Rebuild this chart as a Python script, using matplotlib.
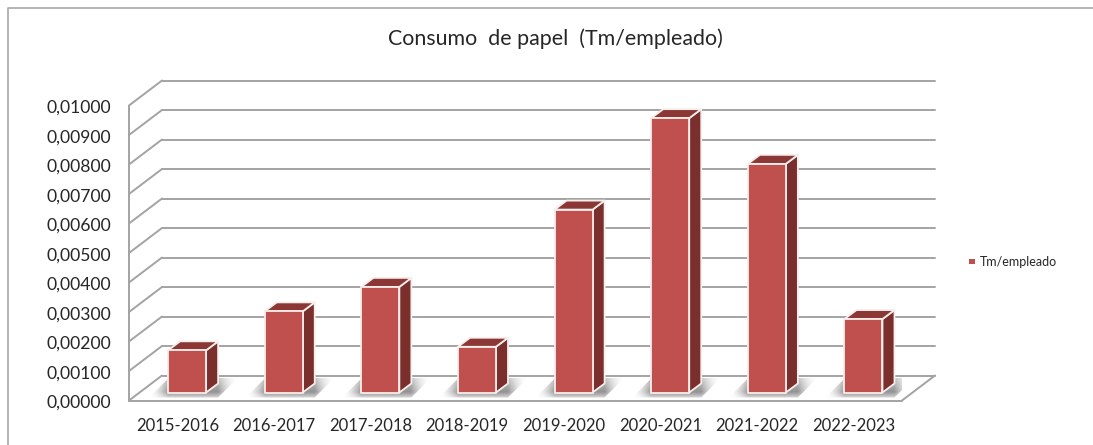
import numpy as np
import matplotlib
matplotlib.use("Agg")
import matplotlib.pyplot as plt
from matplotlib.lines import Line2D
from matplotlib.patches import Polygon, Rectangle
from matplotlib.transforms import ScaledTranslation

W, H = 1093, 445

categories = ["2015-2016", "2016-2017", "2017-2018", "2018-2019",
              "2019-2020", "2020-2021", "2021-2022", "2022-2023"]
values = [0.00143, 0.00275, 0.00358, 0.00155, 0.0062, 0.0093, 0.00775, 0.00249]
y_ticks = [0.001 * i for i in range(11)]
y_labels = [f"{t:.5f}".replace(".", ",") for t in y_ticks]

C = {"face": "#c0504d", "side": "#7a2f2d", "top": "#8b3735",
     "edge": "#f6eeec", "grid": "#a3a3a3", "text": "#262626"}

plt.rcParams["font.family"] = ["Lato", "DejaVu Sans"]

fig = plt.figure(figsize=(W / 100, H / 100), dpi=100, facecolor="white")

# front plane of the fake 3d box, in pixels
L, R, T, B = 129, 902, 105.5, 400.5
ax = fig.add_axes([L / W, 1 - B / H, (R - L) / W, (B - T) / H])
ax.set_xlim(0, len(categories))
ax.set_ylim(0, 0.01)
ax.patch.set_visible(False)
for sp in ax.spines.values():
    sp.set_visible(False)

# pixel -> data helpers
px = len(categories) / (R - L)
py = 0.01 / (B - T)
DX, DY = 33 * px, 25 * py

# walls
GL = dict(color=C["grid"], lw=1.4, clip_on=False, zorder=1, solid_capstyle="round")
for t in y_ticks:
    ax.plot([0, DX], [t, t + DY], **GL)
    ax.plot([DX, len(categories) + DX], [t + DY, t + DY], **GL)
ax.plot([0, 0], [0, 0.01], **GL)
ax.plot([0, len(categories)], [0, 0], **GL)
ax.plot([len(categories), len(categories) + DX], [0, DY], **GL)

# bars
bw = 38 * px
off_x, off_y = 9.8 * px, 8 * py
dep_x, dep_y = 12 * px, 9 * py
EDGE = dict(edgecolor=C["edge"], lw=1.3, clip_on=False, joinstyle="round")

for i, v in enumerate(values):
    x0 = i + 0.5 - bw / 2 + off_x
    x1 = x0 + bw
    y0 = off_y
    y1 = y0 + v

    # soft shadow on the floor, darkest right next to the bar
    sx0, sx1 = x0 - 19 * px, x1 + 32 * px
    sy0, sy1 = y0 - 5 * py, y0 + 15 * py
    xs = np.linspace(sx0, sx1, 160)
    a = np.interp(xs, [sx0, x0, x1 + dep_x, sx1], [0, 0.8, 0.8, 0]) ** 1.7
    fade = np.interp(np.linspace(0, 1, 40), [0, 0.3, 1], [0.35, 1, 0.55])[:, None]
    rgba = np.zeros((40, 160, 4))
    rgba[..., :3] = 0.38
    rgba[..., 3] = a[None, :] * fade
    im = ax.imshow(rgba, extent=[sx0, sx1, sy0, sy1], aspect="auto", origin="lower",
                   interpolation="bilinear", zorder=2, clip_on=True)
    clip = Polygon([(sx0, sy0), (sx1 - 20 * px, sy0), (sx1, sy1), (sx0 + 20 * px, sy1)],
                   transform=ax.transData, fill=False, lw=0)
    ax.add_patch(clip)
    im.set_clip_path(clip)

    ax.add_patch(Polygon([(x1, y0), (x1 + dep_x, y0 + dep_y),
                          (x1 + dep_x, y1 + dep_y), (x1, y1)],
                         facecolor=C["side"], zorder=3, **EDGE))
    ax.add_patch(Polygon([(x0, y1), (x1, y1), (x1 + dep_x, y1 + dep_y),
                          (x0 + dep_x, y1 + dep_y)],
                         facecolor=C["top"], zorder=3, **EDGE))
    ax.add_patch(Rectangle((x0, y0), bw, v, facecolor=C["face"], zorder=4, **EDGE))

ax.set_xlim(0, len(categories))
ax.set_ylim(0, 0.01)

ax.set_yticks(y_ticks, y_labels, fontsize=12.6, color=C["text"])
ax.set_xticks(np.arange(len(categories)) + 0.5, categories, fontsize=12, color=C["text"])
ax.tick_params(axis="y", length=0, pad=13)
ax.tick_params(axis="x", length=0, pad=12.5)
nudge = ScaledTranslation(0, -1 / 100, fig.dpi_scale_trans)
for lab in ax.get_yticklabels():
    lab.set_transform(lab.get_transform() + nudge)

fig.text(555 / W, 1 - 39 / H, "Consumo  de papel  (Tm/empleado)", ha="center", va="center",
         fontsize=15.4, color=C["text"])

# legend
fig.add_artist(Rectangle((969 / W, 1 - 264 / H), 5.5 / W, 5.5 / H, transform=fig.transFigure,
                         facecolor=C["face"], edgecolor="none"))
fig.text(980 / W, 1 - 262 / H, "Tm/empleado", ha="left", va="center", fontsize=9, color=C["text"])

# chart frame
fig.add_artist(Line2D([8 / W, 8 / W, 1], [0, 1 - 8 / H, 1 - 8 / H], transform=fig.transFigure,
                      color="#a8a8a8", lw=1.2))

fig.savefig("out.png", dpi=100, facecolor="white")
